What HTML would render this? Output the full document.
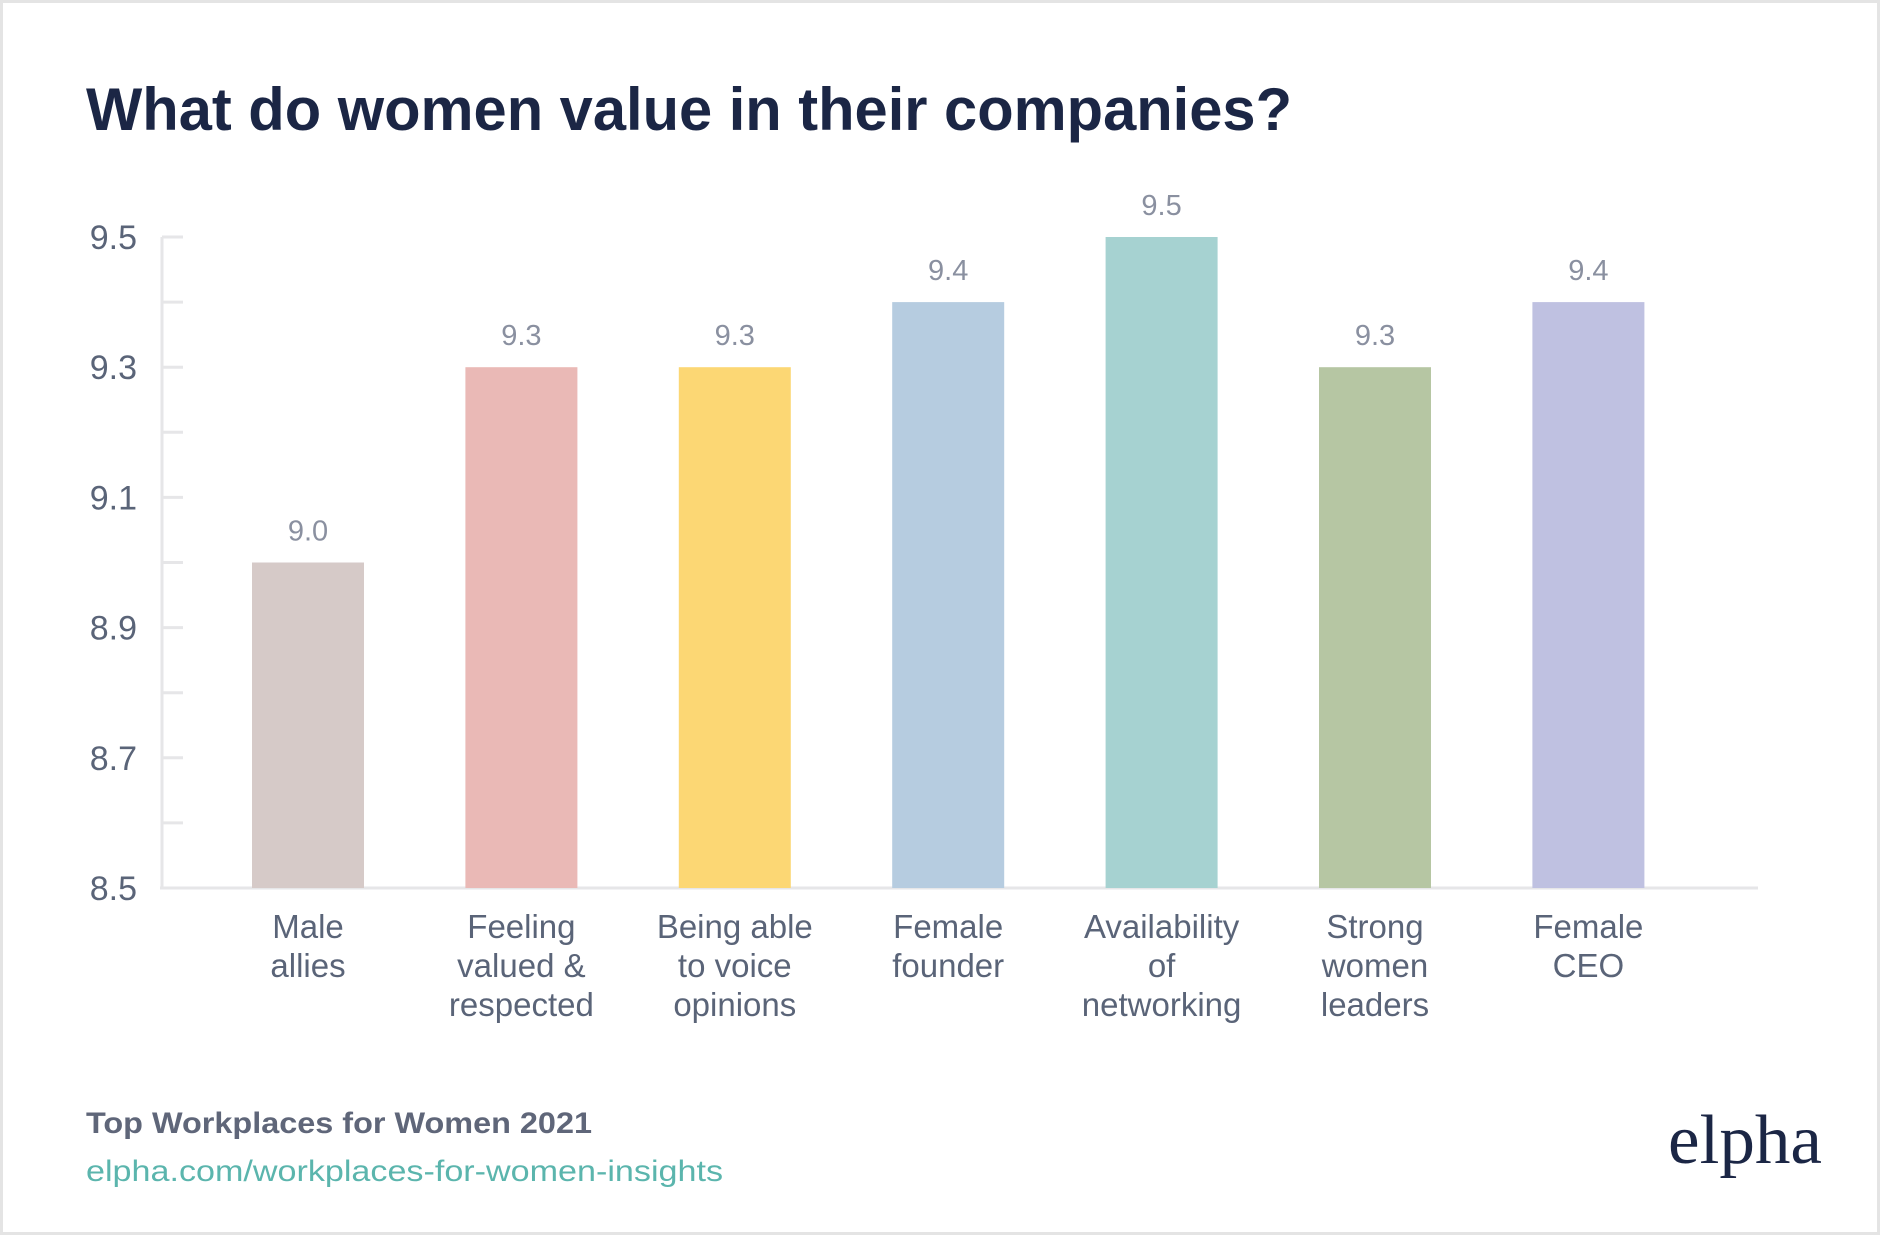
<!DOCTYPE html>
<html><head><meta charset="utf-8"><style>
html,body{margin:0;padding:0;background:#fff}
svg{display:block}
text{font-family:"Liberation Sans",sans-serif}
</style></head><body>
<svg id="chart" width="1880" height="1235" viewBox="0 0 1880 1235">
<rect x="1.5" y="1.5" width="1877" height="1232" fill="#fff" stroke="#e4e4e4" stroke-width="3"/>
<text x="86" y="130" font-size="60" font-weight="bold" fill="#1b2645" textLength="1206" lengthAdjust="spacingAndGlyphs">What do women value in their companies?</text>
<g id="axes"></g>
<g id="bars"></g>
<text x="86" y="1133" font-size="30" font-weight="bold" fill="#5f6679" textLength="506" lengthAdjust="spacingAndGlyphs">Top Workplaces for Women 2021</text>
<text x="86" y="1181" font-size="30" fill="#5bb5ad" textLength="637" lengthAdjust="spacingAndGlyphs">elpha.com/workplaces-for-women-insights</text>
<text x="1668" y="1163" font-size="70" fill="#1b2645" style="font-family:'Liberation Serif',serif" textLength="154" lengthAdjust="spacingAndGlyphs">elpha</text>
</svg>
<script>
const categories=[["Male","allies"],["Feeling","valued &","respected"],["Being able","to voice","opinions"],["Female","founder"],["Availability","of","networking"],["Strong","women","leaders"],["Female","CEO"]];
const values=[9.0,9.3,9.3,9.4,9.5,9.3,9.4];
const valueLabels=["9.0","9.3","9.3","9.4","9.5","9.3","9.4"];
const colors=["#d6cac8","#eab9b6","#fcd774","#b6cce0","#a6d2d1","#b6c6a3","#bfc1e1"];
const yTicks=[8.5,8.7,8.9,9.1,9.3,9.5];
const yMinor=[8.6,8.8,9.0,9.2,9.4];
const NS="http://www.w3.org/2000/svg";
const y0=8.5,y1=9.5,pyBottom=888,pyTop=237;
function y(v){return pyBottom-(v-y0)/(y1-y0)*(pyBottom-pyTop);}
const xStart=308,step=213.4,bw=112;
function x(i){return xStart+i*step;}
function mk(tag,attrs,parent){const e=document.createElementNS(NS,tag);for(const k in attrs)e.setAttribute(k,attrs[k]);parent.appendChild(e);return e;}
const axes=document.getElementById('axes'),bars=document.getElementById('bars');
let l=mk('line',{x1:162,y1:pyTop,x2:162,y2:pyBottom,stroke:'#e6e6e8','stroke-width':3},axes);


l=mk('line',{x1:160,y1:pyBottom,x2:1758,y2:pyBottom,stroke:'#e6e6e8','stroke-width':3},axes);


yTicks.concat(yMinor).forEach(v=>{
 const t=mk('line',{x1:162,y1:y(v),x2:183,y2:y(v),stroke:'#e6e6e8','stroke-width':3},axes);
 
 
});
yTicks.forEach(v=>{
 const t=mk('text',{x:137,y:y(v)+12,'font-size':34,fill:'#5a6478','text-anchor':'end'},axes);
 t.textContent=v.toFixed(1);
 
 
});
values.forEach((v,i)=>{
 const r=mk('rect',{x:x(i)-bw/2,y:y(v),width:bw,height:pyBottom-y(v),fill:colors[i]},bars);
 
 
 const t=mk('text',{x:x(i),y:y(v)-22,'font-size':29,fill:'#8a90a0','text-anchor':'middle'},bars);
 t.textContent=valueLabels[i];
 
 
 categories[i].forEach((ln,j)=>{
  const c=mk('text',{x:x(i),y:938+j*39,'font-size':33,fill:'#5a6478','text-anchor':'middle'},bars);
  c.textContent=ln;
  
  
 });
});
</script>
</body></html>
